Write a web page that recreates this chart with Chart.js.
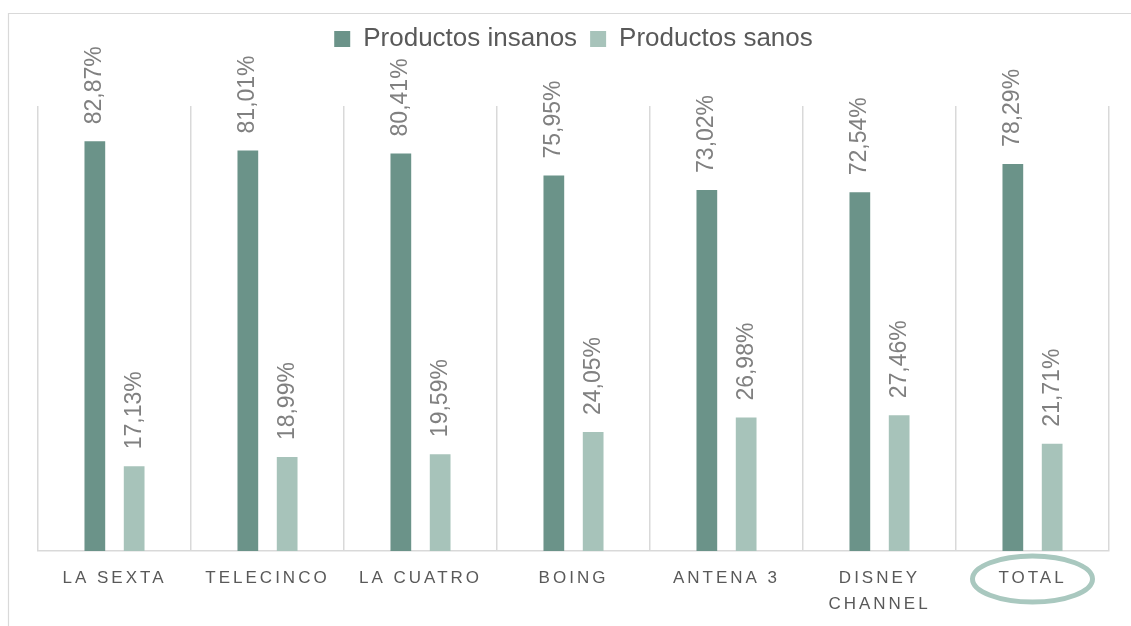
<!DOCTYPE html>
<html lang="es">
<head>
<meta charset="UTF-8">
<title>Productos insanos vs sanos por cadena</title>
<style>
    html, body { margin: 0; padding: 0; background: #fff; }
</style>
</head>
<body>
<canvas id="chart" width="1131" height="626"></canvas>

<script src="https://cdn.jsdelivr.net/npm/chart.js"></script>
<script>
    // datos
    const cadenas = ['LA SEXTA', 'TELECINCO', 'LA CUATRO', 'BOING', 'ANTENA 3', ['DISNEY', 'CHANNEL'], 'TOTAL'];
    const insanos = [82.87, 81.01, 80.41, 75.95, 73.02, 72.54, 78.29];
    const sanos = [17.13, 18.99, 19.59, 24.05, 26.98, 27.46, 21.71];
    const yMax = 90;

    function fmt(v) {
        return v.toFixed(2).replace('.', ',') + '%';
    }

    // marco gris arriba e izquierda
    const marco = {
        id: 'marco',
        beforeDraw(chart) {
            const ctx = chart.ctx;
            ctx.save();
            ctx.strokeStyle = '#d9d9d9';
            ctx.lineWidth = 1.2;
            ctx.beginPath();
            ctx.moveTo(8.5, 626);
            ctx.lineTo(8.5, 13.5);
            ctx.lineTo(1131, 13.5);
            ctx.stroke();
            ctx.restore();

            // espaciado de letras en las etiquetas del eje x
            const sx = chart.scales.x;
            if (sx && !sx._conEspacio) {
                const orig = sx.drawLabels.bind(sx);
                sx.drawLabels = function (area) {
                    chart.ctx.save();
                    chart.ctx.letterSpacing = '3px';
                    orig(area);
                    chart.ctx.restore();
                };
                sx._conEspacio = true;
            }
        }
    };

    // mas espacio bajo la leyenda
    const leyendaAlta = {
        id: 'leyendaAlta',
        beforeInit(chart) {
            const lg = chart.legend;
            if (!lg) return;
            const fit = lg.fit.bind(lg);
            lg.fit = function () {
                fit();
                this.height += 44;
            };
        }
    };

    // etiquetas de valor giradas
    const etiquetas = {
        id: 'etiquetas',
        afterDatasetsDraw(chart) {
            const ctx = chart.ctx;
            ctx.save();
            ctx.font = '23px "Liberation Sans", Arial, sans-serif';
            ctx.fillStyle = '#808080';
            ctx.textAlign = 'left';
            ctx.textBaseline = 'middle';
            chart.data.datasets.forEach((ds, i) => {
                chart.getDatasetMeta(i).data.forEach((bar, j) => {
                    ctx.save();
                    ctx.translate(bar.x, bar.y - 17);
                    ctx.rotate(-Math.PI / 2);
                    ctx.fillText(fmt(ds.data[j]), 0, 0);
                    ctx.restore();
                });
            });
            ctx.restore();
        }
    };

    // elipse alrededor de TOTAL
    const elipse = {
        id: 'elipse',
        afterDraw(chart) {
            const sx = chart.scales.x;
            const ctx = chart.ctx;
            const x = sx.getPixelForValue(cadenas.length - 1);
            const y = sx.top + 28;
            ctx.save();
            ctx.strokeStyle = '#a9c8bf';
            ctx.lineWidth = 5;
            ctx.beginPath();
            ctx.ellipse(x, y, 60, 23, 0, 0, Math.PI * 2);
            ctx.stroke();
            ctx.restore();
        }
    };

    new Chart(document.getElementById('chart'), {
        type: 'bar',
        data: {
            labels: cadenas,
            datasets: [{
                label: 'Productos insanos',
                data: insanos,
                backgroundColor: '#6b9389'
            }, {
                label: 'Productos sanos',
                data: sanos,
                backgroundColor: '#a7c3ba'
            }]
        },
        options: {
            responsive: false,
            animation: false,
            categoryPercentage: 0.514,
            barPercentage: 0.527,
            layout: {
                padding: { left: 38, right: 22, top: 13, bottom: -5 }
            },
            plugins: {
                legend: {
                    position: 'top',
                    labels: {
                        font: { family: '"Liberation Sans", Arial, sans-serif', size: 26 },
                        color: '#595959',
                        boxWidth: 16,
                        boxHeight: 16,
                        padding: 13
                    }
                },
                tooltip: { enabled: false }
            },
            scales: {
                x: {
                    grid: {
                        offset: true,
                        drawTicks: false,
                        color: '#d9d9d9',
                        lineWidth: 1.5
                    },
                    border: { color: '#d9d9d9', width: 1.5 },
                    ticks: {
                        padding: 14,
                        color: '#595959',
                        font: { family: '"Liberation Sans", Arial, sans-serif', size: 17, lineHeight: '26px' },
                        maxRotation: 0
                    }
                },
                y: {
                    display: false,
                    min: 0,
                    max: yMax
                }
            }
        },
        plugins: [marco, leyendaAlta, etiquetas, elipse]
    });
</script>
</body>
</html>
